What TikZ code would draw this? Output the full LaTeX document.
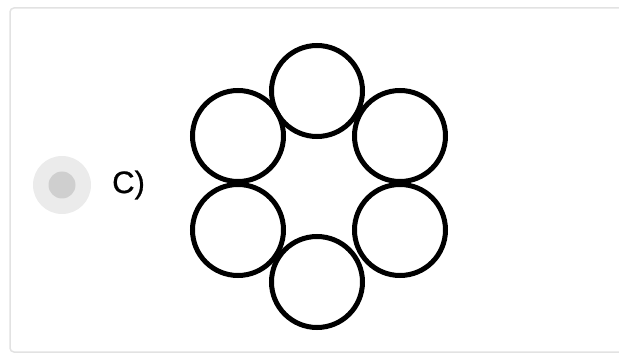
\documentclass[tikz,border=0pt]{standalone}
\usepackage{fontspec}
\setmainfont{Liberation Sans}
\newfontfamily\labelfont{Liberation Sans}[FakeBold=0.8]
\usepackage{xcolor}
\usepackage{tikz}
\definecolor{cardline}{HTML}{E2E2E2}
\definecolor{radioout}{HTML}{EBEBEB}
\definecolor{radioin}{HTML}{CFCFCF}

\begin{document}
\begin{tikzpicture}[x=1pt,y=-1pt,
                    ring/.style={draw,circle,line width=5pt,minimum size=91pt,inner sep=0pt},
                    radio/.style={circle,fill=radioout,minimum size=58pt,inner sep=0pt}]
\useasboundingbox (0,0) rectangle (619,358);
\draw[cardline,line width=1.5pt,rounded corners=4pt] (10,8) -- (640,8) -- (640,352) -- (10,352) -- cycle;
\node[radio] (radio) at (62,185) {};
\node[circle,fill=radioin,minimum size=27pt,inner sep=0pt] (dot) at (radio) {};
\node[font=\labelfont\fontsize{31}{34}\selectfont,anchor=west,inner sep=0pt] (label) at (112,185) {C)};
\node[ring] (top)    at (317,91)  {};
\node[ring] (uleft)  at (238,136) {};
\node[ring] (uright) at (400,136) {};
\node[ring] (lleft)  at (238,230) {};
\node[ring] (lright) at (400,230) {};
\node[ring] (bottom) at (317,282) {};
\end{tikzpicture}
\end{document}
